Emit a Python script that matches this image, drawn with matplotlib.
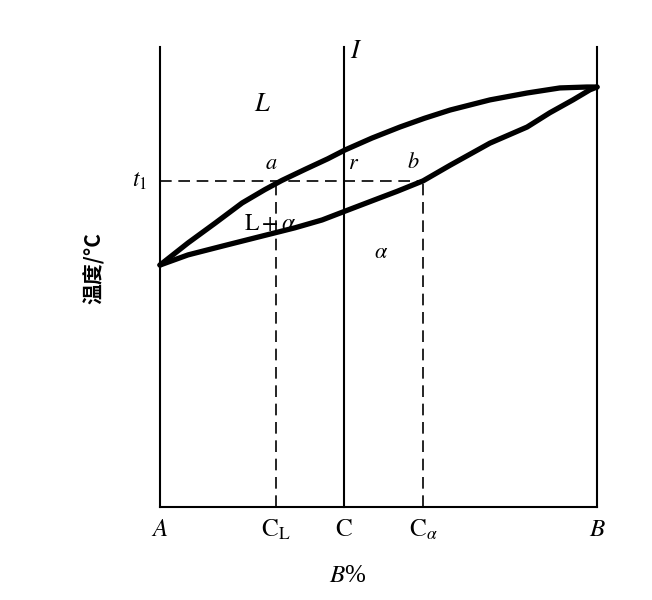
import matplotlib
matplotlib.use("Agg")
import matplotlib.pyplot as plt

plt.rcParams["mathtext.fontset"] = "stix"
plt.rcParams["font.family"] = ["Liberation Serif", "DejaVu Serif"]

# composition (B %) and temperature (arbitrary units)
liquidus_x = [0, 6.4, 12.6, 18.8, 24.0, 27.9, 33.2, 38.4, 42.3, 48.5, 54.9,
              60.5, 66.4, 75.5, 84.0, 91.5, 97.7, 100]
liquidus_t = [52.6, 57.4, 61.7, 66.1, 69.0, 71.0, 73.4, 75.7, 77.6, 80.2, 82.6,
              84.5, 86.3, 88.5, 90.0, 91.1, 91.3, 91.3]
solidus_x = [0, 6.4, 14.2, 21.7, 26.3, 30.9, 37.1, 42.3, 50.3, 54.2, 60.2,
             66.4, 75.5, 84.0, 89.2, 94.5, 98.4, 100]
solidus_t = [52.6, 54.8, 56.7, 58.5, 59.6, 60.7, 62.4, 64.3, 67.2, 68.6, 70.9,
             74.3, 79.1, 82.6, 85.7, 88.5, 90.7, 91.3]

c_l = 26.5
c_alloy = 42.1
c_alpha = 60.2
t1 = 70.9
t_top = 100

tick_pos = [0, c_l, c_alloy, c_alpha, 100]
tick_labels = [r"$A$", r"$\mathrm{C_L}$", r"$\mathrm{C}$", r"$\mathrm{C}_\alpha$", r"$B$"]

fig = plt.figure(figsize=(6.52, 6.0), dpi=100)
ax = fig.add_axes([0, 0, 1, 1])
ax.set_xlim(-160 / 4.37, (652 - 160) / 4.37)
ax.set_ylim(-93 / 4.6, 507 / 4.6)
ax.axis("off")

# frame: verticals at A, C, B and the bottom line
for x in [0, c_alloy, 100]:
    ax.plot([x, x], [0, t_top], color="black", lw=1.5)
ax.plot([0, 100], [0, 0], color="black", lw=1.5)

# liquidus and solidus
ax.plot(liquidus_x, liquidus_t, color="black", lw=3.8, solid_capstyle="round",
        solid_joinstyle="round")
ax.plot(solidus_x, solidus_t, color="black", lw=3.8, solid_capstyle="round",
        solid_joinstyle="round")

# tie line at t1 and drop lines
dash = (0, (7, 4))
ax.plot([0, c_alpha], [t1, t1], color="black", lw=1.2, linestyle=dash)
ax.plot([c_l, c_l], [0, t1], color="black", lw=1.2, linestyle=dash)
ax.plot([c_alpha, c_alpha], [0, t1], color="black", lw=1.2, linestyle=dash)

# region and point labels
ax.text(23.5, 87.5, r"$L$", fontsize=19, ha="center", va="center")
ax.text(45.0, 99.0, r"$I$", fontsize=19, ha="center", va="center")
ax.text(25.5, 74.5, r"$a$", fontsize=16, ha="center", va="center")
ax.text(44.2, 74.5, r"$r$", fontsize=16, ha="center", va="center")
ax.text(58.0, 74.8, r"$b$", fontsize=16, ha="center", va="center")
ax.text(25.2, 61.5, r"$\mathrm{L}+\alpha$", fontsize=17, ha="center", va="center")
ax.text(50.5, 55.0, r"$\alpha$", fontsize=16, ha="center", va="center")
ax.text(-3.0, 70.9, r"$t_1$", fontsize=17, ha="right", va="center")

for x, lab in zip(tick_pos, tick_labels):
    ax.text(x, -5.0, lab, fontsize=18, ha="center", va="center")

ax.text(43.0, -15.0, r"$B$%", fontsize=18, ha="center", va="center")
ax.text(-15.0, 52.0, "温度/°C", fontsize=15, rotation=90, ha="center", va="center",
        family=["Noto Sans CJK SC", "DejaVu Sans"], fontweight="bold")

fig.savefig("out.png", dpi=100)
